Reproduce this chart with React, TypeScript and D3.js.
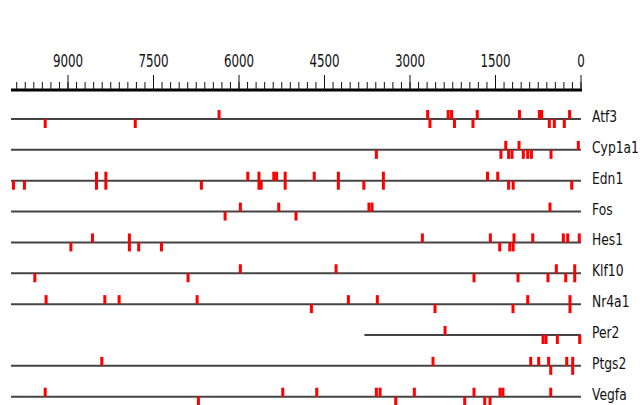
import React from "react";
import * as d3 from "d3";

const genes = ["Atf3", "Cyp1a1", "Edn1", "Fos", "Hes1", "Klf10", "Nr4a1", "Per2", "Ptgs2", "Vegfa"];
const lineStarts = [10000, 10000, 10000, 10000, 10000, 10000, 10000, 3800, 10000, 10000];
const upSites = [
  [6350, 2690, 2330, 2270, 1820, 1080, 730, 690, 200],
  [1320, 1087, 47],
  [8500, 8336, 5846, 5650, 5390, 5340, 5190, 4680, 4257, 3467, 1640, 1461],
  [5976, 5303, 3720, 3666, 544],
  [8571, 7923, 2783, 1590, 1175, 847, 310, 233, 30],
  [5976, 4297, 433, 110],
  [9384, 8354, 8103, 6735, 4081, 3573, 935, 193],
  [2385],
  [8407, 2596, 882, 742, 568, 251, 146],
  [9400, 5232, 4636, 3590, 3525, 2924, 1877, 1420, 1370, 531],
];
const downSites = [
  [9400, 7820, 2650, 2220, 1895, 556, 468, 293],
  [3590, 1405, 1270, 1210, 1012, 935, 870, 526],
  [9957, 9765, 8500, 8336, 6660, 5650, 5610, 5190, 4257, 3810, 3467, 1270, 1190, 163],
  [6244, 5000],
  [8950, 7923, 7760, 7360, 1426, 1250, 1190],
  [9582, 6893, 1877, 1105, 579, 268, 110],
  [4730, 2561, 1193, 193],
  [666, 614, 415, 23],
  [531, 146],
  [6712, 3250, 2040, 1689, 1596],
];
const majorTicks = [9000, 7500, 6000, 4500, 3000, 1500, 0];

export default function App() {
  const x = d3.scaleLinear().domain([10000, 0]).range([11, 581]);
  const y = d3.scalePoint<string>().domain(genes).range([119, 396.7]);
  const minorTicks = d3.range(0, 10000, 150);
  const axisY = 90;
  const markW = 3;
  const markH = 9;
  return (
    <svg width={640} height={405} style={{ position: "absolute", left: 0, top: 0, background: "#fff" }}>
      {/* axis */}
      <line x1={x(10000)} x2={x(0) + 1} y1={axisY} y2={axisY} stroke="#000" strokeWidth={3} />
      {minorTicks.map((t) => (
        <line key={"m" + t} x1={x(t)} x2={x(t)} y1={axisY} y2={axisY - 8} stroke="#111" strokeWidth={1} />
      ))}
      {majorTicks.map((t) => (
        <line key={"M" + t} x1={x(t)} x2={x(t)} y1={axisY} y2={axisY - 15} stroke="#111" strokeWidth={1} />
      ))}
      {majorTicks.map((t) => {
        const s = String(t);
        return (
          <g key={"L" + t} transform={`translate(${x(t)},67) scale(0.64,1)`}>
            <text textAnchor="middle" fontFamily="DejaVu Sans, sans-serif" fontSize={18.5} fill="#111">
              {s}
            </text>
          </g>
        );
      })}
      {/* rows */}
      {genes.map((g, i) => {
        const yy = y(g) as number;
        return (
          <g key={g}>
            <line x1={x(lineStarts[i])} x2={x(0)} y1={yy} y2={yy} stroke="#444" strokeWidth={2} />
            {upSites[i].map((v, j) => (
              <rect key={"u" + j} x={x(v) - markW / 2} y={yy - markH} width={markW} height={markH} fill="#ff0000" />
            ))}
            {downSites[i].map((v, j) => (
              <rect key={"d" + j} x={x(v) - markW / 2} y={yy} width={markW} height={markH} fill="#ff0000" />
            ))}
            <g transform={`translate(592,${yy + 3}) scale(0.77,1)`}>
              <text fontFamily="DejaVu Sans, sans-serif" fontSize={16} fill="#111">
                {g}
              </text>
            </g>
          </g>
        );
      })}
    </svg>
  );
}
